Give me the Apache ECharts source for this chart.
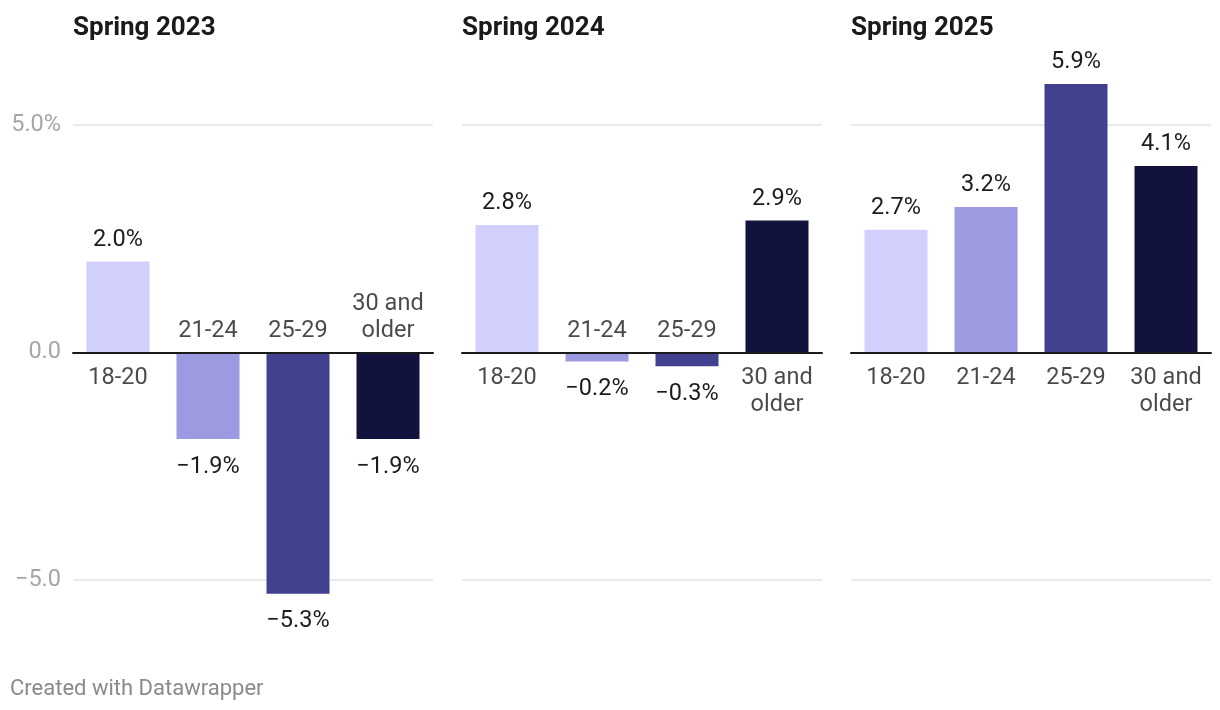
<!DOCTYPE html>
<html>
<head>
<meta charset="utf-8">
<script src="https://cdn.jsdelivr.net/npm/echarts@6/dist/echarts.min.js"></script>
<style>
html,body{margin:0;padding:0;background:#fff;}
#c{width:1220px;height:710px;}
</style>
</head>
<body>
<div id="c"></div>
<script>
const categories = ['18-20', '21-24', '25-29', '30 and older'];
const periods = ['Spring 2023', 'Spring 2024', 'Spring 2025'];
const values2023 = [2.0, -1.9, -5.3, -1.9];
const values2024 = [2.8, -0.2, -0.3, 2.9];
const values2025 = [2.7, 3.2, 5.9, 4.1];
const yTicks = [-5, 0, 5];
const footerText = 'Created with Datawrapper';

const panelValues = [values2023, values2024, values2025];
const colors = ['#d1cffb', '#9c9ae0', '#41418f', '#12123f'];
const gridLefts = [73, 462, 851];
const FONT = 'Roboto';
const FS = 23.5;

function fmtVal(v) {
  return (v < 0 ? '\u2212' : '') + Math.abs(v).toFixed(1) + '%';
}
function fmtTick(v) {
  if (v === 0) return '0.0';
  if (v > 0) return v.toFixed(1) + '%';
  return '\u2212' + Math.abs(v).toFixed(1);
}
function fmtCat(c) {
  return c.replace('30 and ', '30 and\n');
}

const grids = [], xAxes = [], yAxes = [], series = [], titles = [];
panelValues.forEach((vals, p) => {
  grids.push({ left: gridLefts[p], width: 360, top: 125, height: 455 });
  xAxes.push({
    type: 'category', gridIndex: p, data: categories,
    axisLine: { show: true, onZero: true, lineStyle: { color: '#1a1a1a', width: 2 } },
    axisTick: { show: false }, axisLabel: { show: false }, z: 5
  });
  yAxes.push({
    type: 'value', gridIndex: p, min: yTicks[0], max: yTicks[2], interval: yTicks[2] - yTicks[1],
    axisLine: { show: false }, axisTick: { show: false },
    splitLine: { show: true, lineStyle: { color: '#e3e3e3', width: 1.5 } },
    axisLabel: {
      show: p === 0, margin: 12, color: '#a6a6a6', fontSize: FS, fontFamily: FONT,
      padding: [4, 0, 0, 0],
      formatter: fmtTick
    }
  });
  titles.push({
    text: periods[p], left: gridLefts[p], top: 15, padding: 0,
    textStyle: { fontSize: 26, fontWeight: 'bold', color: '#1a1a1a', fontFamily: FONT }
  });
  series.push({
    type: 'bar', xAxisIndex: p, yAxisIndex: p, barWidth: '70%', clip: false,
    data: vals.map((v, i) => ({
      value: v,
      itemStyle: { color: colors[i] },
      label: { position: v < 0 ? 'bottom' : 'top', distance: v < 0 ? 16 : 10 }
    })),
    label: {
      show: true, fontSize: FS, fontFamily: FONT, color: '#1c1c1c',
      lineHeight: FS, formatter: (d) => fmtVal(d.value)
    },
    z: 2
  });
  series.push({
    type: 'scatter', xAxisIndex: p, yAxisIndex: p, symbolSize: 0, silent: true,
    data: categories.map((c, i) => ({
      value: [i, 0],
      label: { position: vals[i] < 0 ? 'top' : 'bottom', distance: vals[i] < 0 ? 8 : 12 }
    })),
    label: {
      show: true, fontSize: FS, fontFamily: FONT, color: '#1c1c1c',
      lineHeight: 27, align: 'center',
      formatter: (d) => fmtCat(categories[d.dataIndex])
    },
    z: 3
  });
});
titles.push({
  text: footerText, left: 10, top: 678, padding: 0,
  textStyle: { fontSize: 22, fontWeight: 'normal', color: '#8a8a8a', fontFamily: FONT }
});

const chart = echarts.init(document.getElementById('c'), null, { renderer: 'canvas' });
chart.setOption({
  animation: false,
  backgroundColor: '#ffffff',
  title: titles,
  grid: grids,
  xAxis: xAxes,
  yAxis: yAxes,
  series: series
});
</script>
</body>
</html>
